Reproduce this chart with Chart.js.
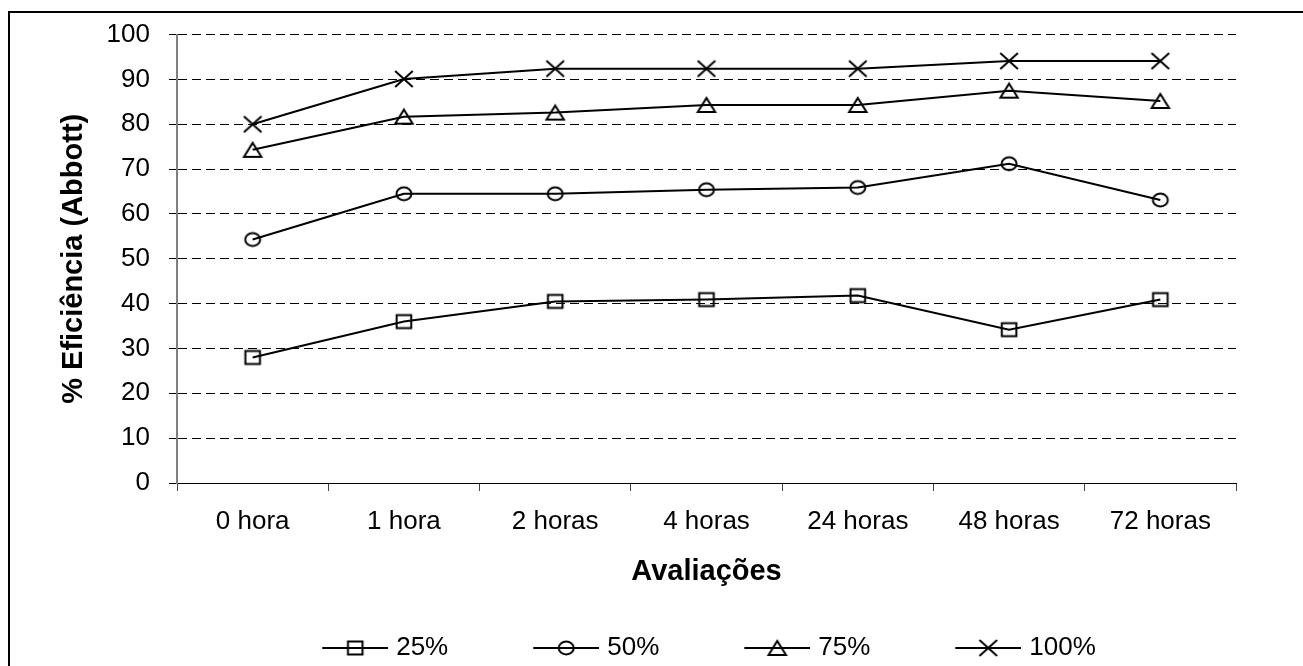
<!DOCTYPE html>
<html>
<head>
<meta charset="utf-8">
<title>% Eficiência (Abbott)</title>
<script src="https://cdn.jsdelivr.net/npm/chart.js@4/dist/chart.umd.min.js"></script>
<style>
  html, body { margin: 0; padding: 0; background: #fff; overflow: hidden; }
  #wrap { position: relative; width: 1303px; height: 666px; overflow: hidden; }
</style>
</head>
<body>
<div id="wrap"><canvas id="chart"></canvas></div>
<script>
// Categories and series values (% efficiency, Abbott)
const categories = ['0 hora', '1 hora', '2 horas', '4 horas', '24 horas', '48 horas', '72 horas'];
const seriesNames = ['25%', '50%', '75%', '100%'];
const values25  = [28.0, 36.0, 40.5, 40.9, 41.8, 34.2, 40.9];
const values50  = [54.3, 64.5, 64.5, 65.4, 65.9, 71.2, 63.1];
const values75  = [74.3, 81.7, 82.6, 84.3, 84.3, 87.5, 85.2];
const values100 = [80.0, 90.1, 92.4, 92.4, 92.4, 94.1, 94.1];
const yTicks = [0, 10, 20, 30, 40, 50, 60, 70, 80, 90, 100];

const FONT = '"Liberation Sans", Arial, Helvetica, sans-serif';

// Hollow black marker glyph; for the legend a 66px line runs through it.
// Legend glyphs are wider than the line so the line sits close to the label text.
function makeMarker(shape, forLegend) {
  const w = forLegend ? 76 : 24, h = 22;
  const c = document.createElement('canvas');
  c.width = w; c.height = h;
  const g = c.getContext('2d');
  const cy = h / 2;
  const cx = forLegend ? 43 : w / 2;
  g.strokeStyle = '#000';
  g.lineWidth = 2;
  if (forLegend) {
    g.beginPath(); g.moveTo(10, cy); g.lineTo(76, cy); g.stroke();
  }
  g.beginPath();
  if (shape === 'square') {
    g.rect(cx - 7.3, cy - 6.5, 14.6, 13);
  } else if (shape === 'circle') {
    g.ellipse(cx, cy, 7.5, 6.4, 0, 0, Math.PI * 2);
  } else if (shape === 'triangle') {
    g.moveTo(cx, cy - 7);
    g.lineTo(cx + 8.7, cy + 7);
    g.lineTo(cx - 8.7, cy + 7);
    g.closePath();
  } else if (shape === 'cross') {
    g.moveTo(cx - 8.8, cy - 8); g.lineTo(cx + 8.8, cy + 8);
    g.moveTo(cx + 8.8, cy - 8); g.lineTo(cx - 8.8, cy + 8);
  }
  g.stroke();
  return c;
}

const shapes = ['square', 'circle', 'triangle', 'cross'];
const seriesValues = [values25, values50, values75, values100];
const pointImgs = shapes.map(s => makeMarker(s, false));
const legendImgs = shapes.map(s => makeMarker(s, true));

const datasets = seriesNames.map((name, i) => ({
  label: name,
  data: seriesValues[i],
  borderColor: '#000',
  backgroundColor: 'rgba(0,0,0,0)',
  borderWidth: 2,
  tension: 0,
  pointStyle: pointImgs[i],
  pointRadius: 9,
  pointHoverRadius: 9
}));

// White page with the outer frame (left and top edges fall inside the page)
const framePlugin = {
  id: 'frame',
  beforeDraw(chart) {
    const ctx = chart.ctx;
    ctx.save();
    ctx.fillStyle = '#fff';
    ctx.fillRect(0, 0, chart.width, chart.height);
    ctx.strokeStyle = '#000';
    ctx.lineWidth = 2;
    ctx.beginPath();
    ctx.moveTo(9, chart.height + 10);
    ctx.lineTo(9, 12);
    ctx.lineTo(chart.width + 10, 12);
    ctx.stroke();
    ctx.restore();
  }
};

new Chart(document.getElementById('chart'), {
  type: 'line',
  data: { labels: categories, datasets },
  plugins: [framePlugin],
  options: {
    responsive: true,
    maintainAspectRatio: false,
    animation: false,
    events: [],
    layout: { padding: { left: 10, right: 67, top: 34, bottom: -5 } },
    plugins: {
      tooltip: { enabled: false },
      legend: {
        position: 'bottom',
        fullSize: false,
        labels: {
          usePointStyle: true,
          pointStyleWidth: 66,
          padding: 80,
          color: '#000',
          font: { family: FONT, size: 26 },
          generateLabels(chart) {
            return chart.data.datasets.map((ds, i) => ({
              text: ds.label,
              pointStyle: legendImgs[i],
              fillStyle: 'rgba(0,0,0,0)',
              strokeStyle: '#000',
              lineWidth: 0,
              hidden: false,
              datasetIndex: i,
              fontColor: '#000'
            }));
          }
        }
      }
    },
    scales: {
      x: {
        type: 'category',
        offset: true,
        afterFit(scale) { scale.height = 72; },
        grid: {
          offset: true,
          drawOnChartArea: false,
          drawTicks: true,
          tickLength: 8,
          tickColor: '#444',
          tickWidth: 1
        },
        border: { display: true, color: '#000', width: 1 },
        ticks: {
          color: '#000',
          padding: 15,
          font: { family: FONT, size: 26 },
          maxRotation: 0,
          autoSkip: false
        },
        title: {
          display: true,
          text: 'Avaliações',
          color: '#000',
          font: { family: FONT, size: 29, weight: 'bold' },
          padding: { top: 0, bottom: -34 }
        }
      },
      y: {
        min: 0,
        max: 100,
        afterFit(scale) { scale.width = 167; },
        afterBuildTicks(scale) { scale.ticks = yTicks.map(v => ({ value: v })); },
        grid: {
          color: '#000',
          lineWidth: 1,
          drawTicks: true,
          tickLength: 8,
          tickColor: '#000',
          tickWidth: 1
        },
        border: { display: true, color: '#808080', width: 2, dash: [9, 5] },
        ticks: {
          color: '#000',
          padding: 19,
          font: { family: FONT, size: 26 }
        },
        title: {
          display: true,
          text: '% Eficiência (Abbott)',
          color: '#000',
          font: { family: FONT, size: 29, weight: 'bold' },
          padding: { top: 47, bottom: 0 }
        }
      }
    }
  }
});
</script>
</body>
</html>
